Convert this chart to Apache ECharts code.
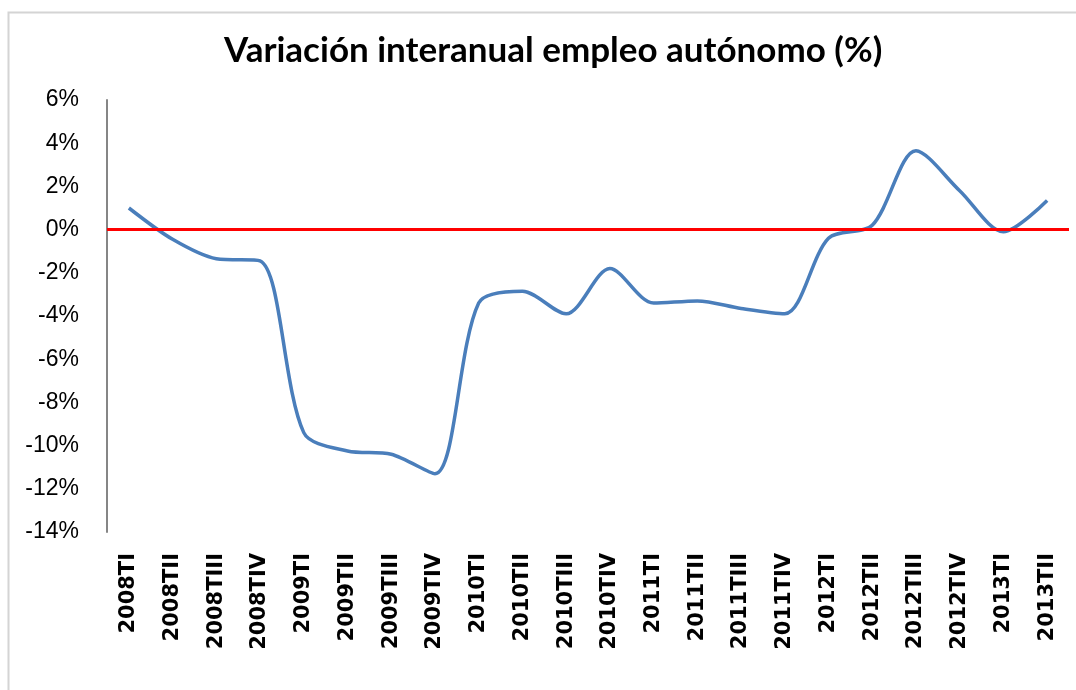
<!DOCTYPE html>
<html>
<head>
<meta charset="utf-8">
<script src="https://cdn.jsdelivr.net/npm/echarts@6/dist/echarts.min.js"></script>
<style>
  html, body { margin: 0; padding: 0; background: #fff; }
  #stage { width: 1076px; height: 690px; }
</style>
</head>
<body>
<div id="stage"></div>
<script>
'use strict';

// trimestres
const quarters = [
  '2008TI', '2008TII', '2008TIII', '2008TIV',
  '2009TI', '2009TII', '2009TIII', '2009TIV',
  '2010TI', '2010TII', '2010TIII', '2010TIV',
  '2011TI', '2011TII', '2011TIII', '2011TIV',
  '2012TI', '2012TII', '2012TIII', '2012TIV',
  '2013TI', '2013TII'
];
// variación interanual (%)
const variacion = [
  1.0, -0.45, -1.35, -1.45,
  -9.4, -10.25, -10.4, -11.3,
  -3.4, -2.85, -3.9, -1.8,
  -3.4, -3.3, -3.65, -3.9,
  -0.4, 0.2, 3.65, 1.8,
  -0.1, 1.35
];
const yTicks = { min: -14, max: 6, step: 2 };

const myChart = echarts.init(document.getElementById('stage'));

const option = {
  animation: false,
  backgroundColor: '#ffffff',
  title: {
    text: 'Variación interanual empleo autónomo (%)',
    left: 219,
    top: 28,
    textStyle: {
      fontFamily: 'Lato',
      fontWeight: 'bold',
      fontSize: 35,
      color: '#000'
    }
  },
  graphic: [{
    type: 'rect',
    shape: { x: 8.5, y: 12.5, width: 1200, height: 800 },
    style: { fill: 'none', stroke: '#d4d4d4', lineWidth: 2 },
    silent: true
  }],
  grid: {
    left: 107,
    right: 7,
    top: 100,
    bottom: 158
  },
  xAxis: {
    type: 'category',
    data: quarters,
    boundaryGap: true,
    axisLine: { show: false, onZero: false },
    axisTick: { show: false },
    axisLabel: {
      rotate: 90,
      margin: 21,
      fontFamily: 'DejaVu Sans',
      fontWeight: 'bold',
      fontSize: 21,
      color: '#000'
    }
  },
  yAxis: {
    type: 'value',
    min: yTicks.min,
    max: yTicks.max,
    interval: yTicks.step,
    axisLine: { show: true, lineStyle: { color: '#868686', width: 2 } },
    axisTick: { show: false },
    splitLine: { show: false },
    axisLabel: {
      formatter: '{value}%',
      margin: 28,
      fontFamily: 'Liberation Sans',
      fontSize: 23,
      color: '#000'
    }
  },
  series: [
    {
      type: 'line',
      data: variacion,
      smooth: 0.3,
      showSymbol: false,
      lineStyle: { color: '#4a7ebb', width: 3.5 },
      markLine: {
        silent: true,
        symbol: 'none',
        label: { show: false },
        lineStyle: { color: '#ff0000', width: 3, type: 'solid' },
        data: [{ yAxis: 0 }]
      },
      z: 3
    }
  ]
};

myChart.setOption(option);
</script>
</body>
</html>
